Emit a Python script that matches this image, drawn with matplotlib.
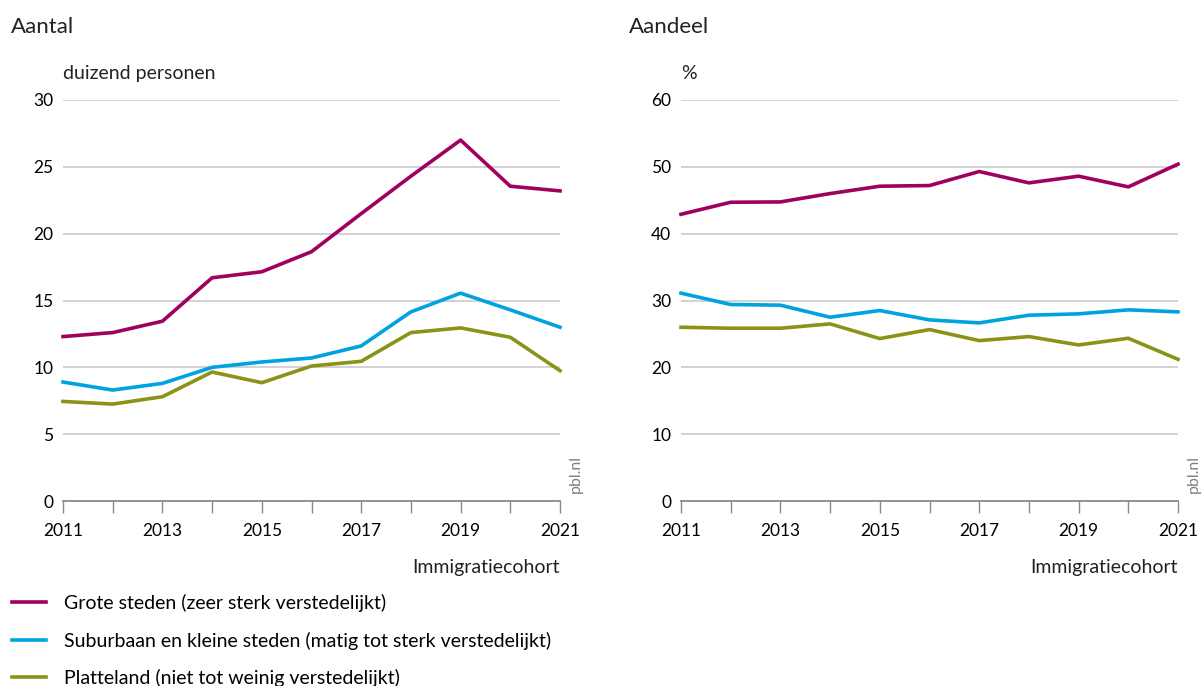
import matplotlib
matplotlib.use("Agg")
import matplotlib.pyplot as plt
import numpy as np

plt.rcParams['font.family'] = ['Lato', 'DejaVu Sans']

years = list(range(2011, 2022))

# Aantal (duizend personen)
grote_aantal = [12.3, 12.6, 13.45, 16.7, 17.15, 18.65, 21.5, 24.3, 27.0, 23.55, 23.2]
suburb_aantal = [8.9, 8.3, 8.8, 10.0, 10.4, 10.7, 11.6, 14.15, 15.55, 14.3, 13.0]
platte_aantal = [7.45, 7.25, 7.8, 9.65, 8.85, 10.1, 10.45, 12.6, 12.95, 12.25, 9.75]

# Aandeel (%)
grote_aandeel = [42.9, 44.7, 44.75, 46.0, 47.1, 47.2, 49.3, 47.6, 48.6, 47.0, 50.4]
suburb_aandeel = [31.1, 29.4, 29.3, 27.5, 28.5, 27.1, 26.65, 27.8, 28.0, 28.6, 28.3]
platte_aandeel = [26.0, 25.85, 25.85, 26.5, 24.3, 25.65, 24.0, 24.6, 23.35, 24.35, 21.2]

labels = ['Grote steden (zeer sterk verstedelijkt)',
          'Suburbaan en kleine steden (matig tot sterk verstedelijkt)',
          'Platteland (niet tot weinig verstedelijkt)']
colors = ['#a0005f', '#00a3e0', '#8b9317']

W, H = 1201, 686
fig = plt.figure(figsize=(W / 100, H / 100), dpi=100)

def px(x0, x1, ytop, ybot):
    return [x0 / W, 1 - ybot / H, (x1 - x0) / W, (ybot - ytop) / H]

ax1 = fig.add_axes(px(63, 560, 100, 501))
ax2 = fig.add_axes(px(681, 1178, 100, 501))

def style(ax, ymax, ystep, unit):
    ax.set_xlim(2011, 2021)
    ax.set_ylim(0, ymax)
    ax.set_yticks(np.arange(0, ymax + 0.1, ystep))
    ax.set_xticks(range(2011, 2022, 2))
    ax.set_xticks(range(2011, 2022), minor=True)
    ax.grid(axis='y', color='#cfcfcf', linewidth=1.3)
    ax.set_axisbelow(True)
    for s in ['left', 'right', 'top']:
        ax.spines[s].set_visible(False)
    ax.spines['bottom'].set_color('#8a8a8a')
    ax.spines['bottom'].set_linewidth(1.3)
    ax.spines['bottom'].set_zorder(3)
    ax.tick_params(axis='x', which='both', direction='out', length=8.5,
                   width=1.0, color='#8a8a8a', labelsize=12.5, pad=7)
    ax.tick_params(axis='y', length=0, labelsize=12.5, pad=7)
    ax.text(0, 1.045, unit, transform=ax.transAxes, ha='left', va='bottom',
            fontsize=14, color='#222222')
    ax.text(1.0, -0.165, 'Immigratiecohort', transform=ax.transAxes,
            ha='right', va='center', fontsize=14, color='#222222')
    ax.text(1.032, 0.02, 'pbl.nl', transform=ax.transAxes, rotation=90,
            ha='center', va='bottom', fontsize=11.5, color='#808080')

lines = []
for vals, c in zip([grote_aantal, suburb_aantal, platte_aantal], colors):
    l, = ax1.plot(years, vals, color=c, linewidth=2.6, clip_on=False)
    lines.append(l)
for vals, c in zip([grote_aandeel, suburb_aandeel, platte_aandeel], colors):
    ax2.plot(years, vals, color=c, linewidth=2.6, clip_on=False)

style(ax1, 30, 5, 'duizend personen')
style(ax2, 60, 10, '%')

fig.text(11 / W, 1 - 33 / H, 'Aantal', fontsize=16, va='baseline', color='#222222')
fig.text(629 / W, 1 - 33 / H, 'Aandeel', fontsize=16, va='baseline', color='#222222')

fig.legend(lines, labels, loc='upper left', bbox_to_anchor=(12 / W, 1 - 594 / H),
           frameon=False, fontsize=14, handlelength=1.75, handletextpad=0.95,
           labelspacing=1.0, borderpad=0, borderaxespad=0)

fig.savefig('out.png', dpi=100)
